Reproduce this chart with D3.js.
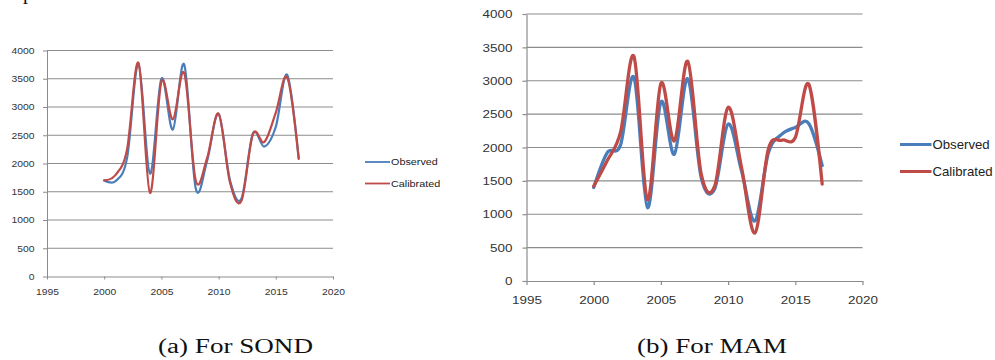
<!DOCTYPE html>
<html>
<head>
<meta charset="utf-8">
<script src="https://cdn.jsdelivr.net/npm/d3@7"></script>
<style>
  body { margin: 0; background: #fff; }
  svg { display: block; }
</style>
</head>
<body>
<svg id="fig" width="995" height="360"></svg>
<script>
// Seasonal flow: observed vs calibrated, 2000-2017
const years = [2000, 2001, 2002, 2003, 2004, 2005, 2006, 2007, 2008, 2009,
               2010, 2011, 2012, 2013, 2014, 2015, 2016, 2017];
const xTicks = [1995, 2000, 2005, 2010, 2015, 2020];
const yTicks = [0, 500, 1000, 1500, 2000, 2500, 3000, 3500, 4000];
const seriesNames = ["Observed", "Calibrated"];
const seriesColors = ["#4a7ebb", "#be4b48"];

// SOND season
const sondObserved   = [1700, 1690, 2100, 3760, 1820, 3500, 2600, 3750, 1560, 2050,
                        2880, 1700, 1380, 2530, 2300, 2650, 3570, 2100];
const sondCalibrated = [1700, 1800, 2250, 3780, 1480, 3450, 2780, 3600, 1700, 2100,
                        2880, 1660, 1340, 2520, 2380, 2900, 3520, 2080];

// MAM season
const mamObserved    = [1400, 1920, 2040, 3050, 1100, 2680, 1900, 3030, 1550, 1380,
                        2350, 1650,  900, 1920, 2200, 2300, 2360, 1730];
const mamCalibrated  = [1420, 1800, 2230, 3360, 1220, 2960, 2100, 3290, 1600, 1420,
                        2600, 1700,  720, 1980, 2110, 2150, 2950, 1450];

const captions = ["(a) For SOND", "(b) For MAM"];

const svg = d3.select("#fig");
const tickFont = "'Liberation Sans', Arial, sans-serif";

// fragment of the preceding text line, clipped at the top edge
svg.append("text")
  .attr("x", 23).attr("y", -1)
  .attr("font-family", "'Liberation Serif', serif")
  .attr("font-size", 20).attr("fill", "#111")
  .text("p");

function drawPanel(cfg) {
  const x = d3.scaleLinear().domain([1995, 2020]).range([cfg.left, cfg.right]);
  const y = d3.scaleLinear().domain([0, 4000]).range([cfg.bottom, cfg.top]);
  const g = svg.append("g");

  // horizontal gridlines
  g.append("g").selectAll("line")
    .data(yTicks.filter(v => v > 0))
    .join("line")
    .attr("x1", x(1995)).attr("x2", x(2020))
    .attr("y1", d => y(d)).attr("y2", d => y(d))
    .attr("stroke", "#8c8c8c").attr("stroke-width", cfg.gridW);

  // y axis
  const yAxis = g.append("g")
    .attr("transform", `translate(${x(1995)},0)`)
    .call(d3.axisLeft(y).tickValues(yTicks).tickSize(4).tickSizeOuter(0)
      .tickFormat(d3.format("d")));
  yAxis.selectAll("path, line").attr("stroke", "#8c8c8c").attr("stroke-width", cfg.gridW);
  yAxis.selectAll("text")
    .attr("x", -cfg.yLabelOffset / cfg.sx)
    .attr("transform", `scale(${cfg.sx},1)`)
    .attr("font-family", tickFont).attr("font-size", cfg.tickSize)
    .attr("fill", "#333");

  // x axis
  const xAxis = g.append("g")
    .attr("transform", `translate(0,${y(0)})`)
    .call(d3.axisBottom(x).tickValues(xTicks).tickSize(cfg.xTick).tickSizeOuter(0)
      .tickPadding(cfg.xPad).tickFormat(d3.format("d")));
  xAxis.selectAll("path, line").attr("stroke", "#8c8c8c").attr("stroke-width", cfg.gridW);
  xAxis.selectAll("text")
    .attr("transform", `scale(${cfg.sx},1)`)
    .attr("font-family", tickFont).attr("font-size", cfg.tickSize)
    .attr("fill", "#333");
  g.selectAll(".domain").attr("fill", "none");

  // smoothed series lines
  const line = d3.line()
    .x((d, i) => x(years[i]))
    .y(d => y(d))
    .curve(d3.curveCardinal.tension(0));
  cfg.series.forEach((vals, k) => {
    g.append("path")
      .datum(vals)
      .attr("d", line)
      .attr("fill", "none")
      .attr("stroke", seriesColors[k])
      .attr("stroke-width", cfg.lineW)
      .attr("stroke-linejoin", "round")
      .attr("stroke-linecap", "round");
  });

  // legend
  seriesNames.forEach((name, k) => {
    const ly = cfg.legendY[k];
    g.append("line")
      .attr("x1", cfg.legendX).attr("x2", cfg.legendX + cfg.legendLen)
      .attr("y1", ly).attr("y2", ly)
      .attr("stroke", seriesColors[k]).attr("stroke-width", cfg.legendW);
    g.append("text")
      .attr("transform", `translate(${cfg.legendX + cfg.legendLen + 1},${ly}) scale(${cfg.legendSx},1)`)
      .attr("dy", "0.35em")
      .attr("font-family", tickFont).attr("font-size", cfg.legendFont)
      .attr("fill", "#222")
      .text(name);
  });

  // caption
  svg.append("text")
    .attr("x", cfg.capX).attr("y", 353)
    .attr("font-family", "'Liberation Serif', 'DejaVu Serif', serif")
    .attr("font-size", 20).attr("fill", "#111")
    .attr("textLength", cfg.capW).attr("lengthAdjust", "spacingAndGlyphs")
    .text(cfg.caption);
}

drawPanel({
  left: 47, right: 333, top: 50.5, bottom: 276.5,
  gridW: 1, tickSize: 9, sx: 1.15, yLabelOffset: 12.5, xTick: 3, xPad: 9,
  lineW: 2.2, series: [sondObserved, sondCalibrated],
  legendX: 365, legendLen: 25, legendY: [162, 183.5], legendW: 1.8,
  legendFont: 9, legendSx: 1.2,
  caption: captions[0], capX: 158, capW: 155
});

drawPanel({
  left: 526.5, right: 862.5, top: 14, bottom: 281,
  gridW: 1.2, tickSize: 11.5, sx: 1.17, yLabelOffset: 14, xTick: 4, xPad: 11,
  lineW: 3.3, series: [mamObserved, mamCalibrated],
  legendX: 900, legendLen: 31.5, legendY: [144.5, 171.5], legendW: 3,
  legendFont: 12, legendSx: 1.1,
  caption: captions[1], capX: 637, capW: 150
});
</script>
</body>
</html>
